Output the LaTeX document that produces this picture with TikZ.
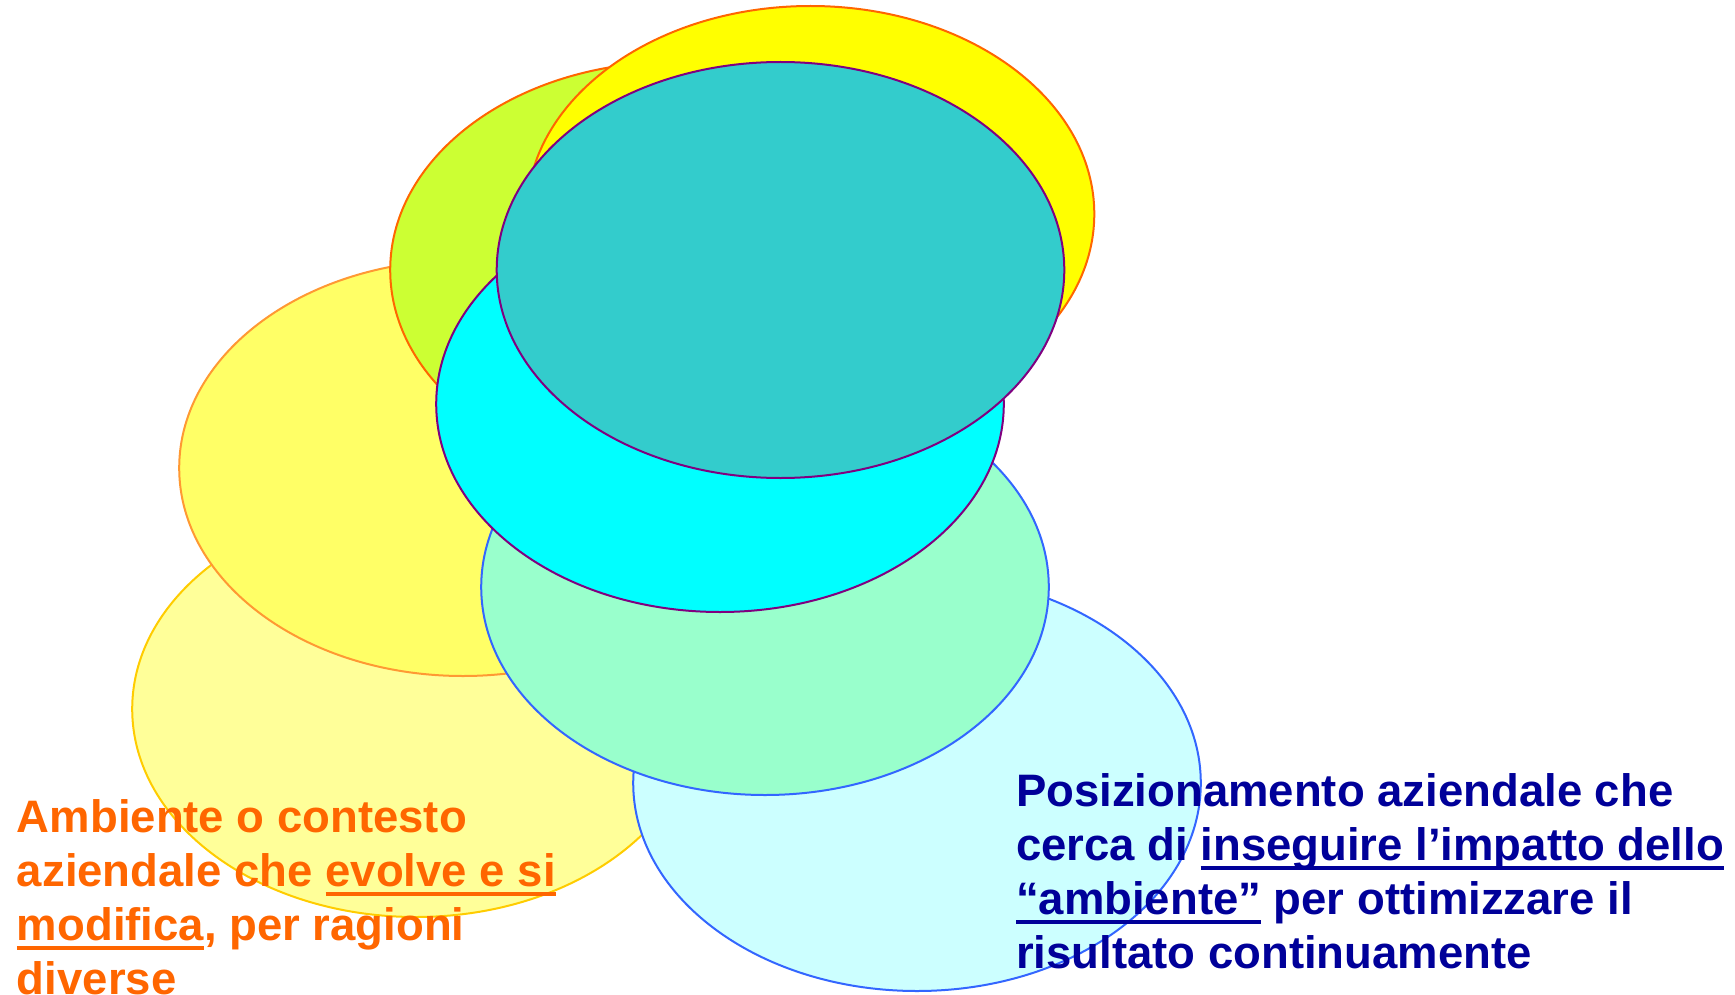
\documentclass[tikz,border=0pt]{standalone}
\usepackage{fontspec}
\setmainfont{Liberation Sans}
\definecolor{paleyel}{HTML}{FFFF99}
\definecolor{paleyelline}{HTML}{FFCC00}
\definecolor{yelB}{HTML}{FFFF66}
\definecolor{yelBline}{HTML}{FF9933}
\definecolor{yelgreen}{HTML}{CCFF33}
\definecolor{orline}{HTML}{FF6600}
\definecolor{yelA}{HTML}{FFFF00}
\definecolor{lcyan}{HTML}{CCFFFF}
\definecolor{mint}{HTML}{99FFCC}
\definecolor{blueline}{HTML}{3366FF}
\definecolor{cyanA}{HTML}{00FFFF}
\definecolor{tealA}{HTML}{33CCCC}
\definecolor{purpline}{HTML}{800080}
\definecolor{txtor}{HTML}{FF6600}
\definecolor{txtblue}{HTML}{000099}
\newcommand\myul[1]{\setbox0\hbox{#1}\rlap{\rule[-5pt]{\wd0}{2pt}}\box0\relax}
\tikzset{
  blob/.style={line width=1pt},
  txt/.style={anchor=base west, inner sep=0pt, outer sep=0pt,
    font=\fontsize{22.75pt}{27pt}\selectfont\bfseries},
  ltxt/.style={txt, text=txtor},
  rtxt/.style={txt, text=txtblue},
}
\begin{document}
\begin{tikzpicture}[x=0.5pt,y=-0.5pt]
\useasboundingbox (0,0) rectangle (1735,995);
\fill[white] (0,0) rectangle (1735,995);
\def\rx{141.9pt}\def\ry{104pt}
\draw[blob,fill=paleyel,draw=paleyelline] (416,709) ellipse [x radius=\rx, y radius=\ry];
\draw[blob,fill=yelB,draw=yelBline] (463,468) ellipse [x radius=\rx, y radius=\ry];
\draw[blob,fill=yelgreen,draw=orline] (674,270) ellipse [x radius=\rx, y radius=\ry];
\draw[blob,fill=yelA,draw=orline] (810.5,214) ellipse [x radius=\rx, y radius=\ry];
\draw[blob,fill=lcyan,draw=blueline] (917,783) ellipse [x radius=\rx, y radius=\ry];
\draw[blob,fill=mint,draw=blueline] (765,587) ellipse [x radius=\rx, y radius=\ry];
\draw[blob,fill=cyanA,draw=purpline] (720,404) ellipse [x radius=\rx, y radius=\ry];
\draw[blob,fill=tealA,draw=purpline] (780.5,270) ellipse [x radius=\rx, y radius=\ry];
\node[ltxt] (l1) at (17,832) {Ambiente o contesto};
\node[ltxt] (l2) at (17,886) {aziendale che \myul{evolve e si}};
\node[ltxt] (l3) at (17,940) {\myul{modifica}, per ragioni};
\node[ltxt] (l4) at (17,994) {diverse};
\node[rtxt] (r1) at (1016,806) {Posizionamento aziendale che};
\node[rtxt] (r2) at (1016,860) {cerca di \myul{inseguire l’impatto dello}};
\node[rtxt] (r3) at (1016,914) {\myul{“ambiente”} per ottimizzare il};
\node[rtxt] (r4) at (1016,968) {risultato continuamente};
\end{tikzpicture}
\end{document}
